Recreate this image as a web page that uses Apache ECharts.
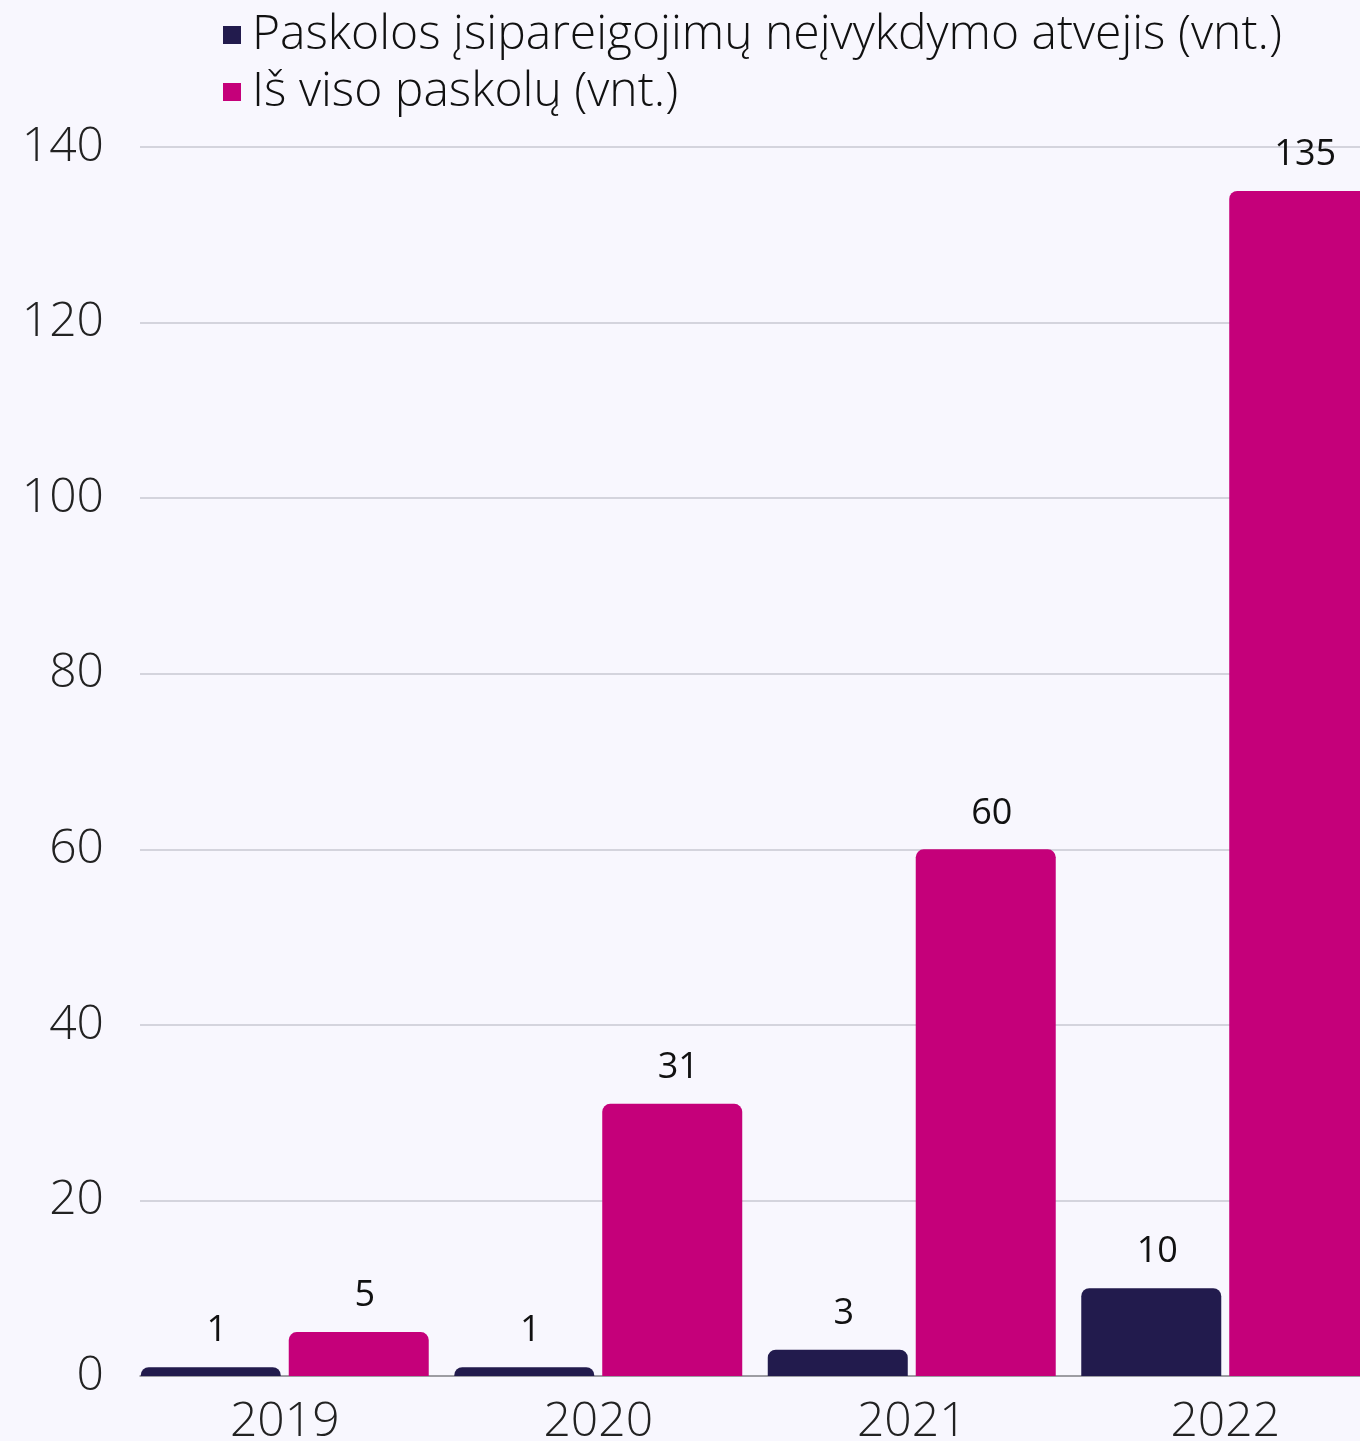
<!DOCTYPE html>
<html>
<head>
<meta charset="utf-8">
<script src="https://cdn.jsdelivr.net/npm/echarts@6/dist/echarts.min.js"></script>
<style>
  html, body { margin: 0; padding: 0; background: #f8f7fe; }
  #chart { width: 1360px; height: 1441px; }
</style>
</head>
<body>
<div id="chart"></div>
<script>
const years = ["2019", "2020", "2021", "2022"];
const defaults = [1, 1, 3, 10]; // Paskolos įsipareigojimų neįvykdymo atvejis
const totals = [5, 31, 60, 135]; // Iš viso paskolų
const yTicks = [0, 20, 40, 60, 80, 100, 120, 140];

const font = "'Open Sans', 'Noto Sans', sans-serif";
const chart = echarts.init(document.getElementById("chart"));

const valueLabel = {
  show: true,
  position: "top",
  distance: 18,
  offset: [6, 0],
  color: "#111",
  fontSize: 36,
  fontFamily: font,
};

chart.setOption({
  backgroundColor: "#f8f7fe",
  animation: false,
  legend: {
    orient: "vertical",
    left: 218,
    top: 6,
    itemWidth: 18,
    itemHeight: 18,
    itemGap: 9,
    icon: "rect",
    textStyle: {
      fontSize: 48,
      lineHeight: 48,
      fontWeight: 300,
      color: "#111",
      fontFamily: font,
      padding: [0, 0, 0, 6],
    },
    data: ["Paskolos įsipareigojimų neįvykdymo atvejis (vnt.)", "Iš viso paskolų (vnt.)"],
  },
  grid: [
    // axis grid: split lines and y labels start at 140
    { left: 140, right: 0, top: 147, bottom: 65, outerBoundsMode: "none" },
    // bars grid, runs past the right edge
    { left: 128, width: 1254, top: 147, bottom: 65, outerBoundsMode: "none" },
  ],
  xAxis: [
    {
      gridIndex: 0,
      type: "category",
      data: years,
      axisLine: { show: true, lineStyle: { color: "#8a8a90", width: 1.5 } },
      axisTick: { show: false },
      axisLabel: { show: false },
    },
    {
      gridIndex: 1,
      type: "category",
      data: years,
      axisLine: { show: false },
      axisTick: { show: false },
      axisLabel: { fontSize: 48, fontWeight: 300, color: "#222", margin: 22, fontFamily: font },
    },
  ],
  yAxis: [
    {
      gridIndex: 0,
      type: "value",
      min: yTicks[0],
      max: yTicks[yTicks.length - 1],
      interval: 20,
      axisLine: { show: false },
      axisTick: { show: false },
      axisLabel: { fontSize: 48, fontWeight: 300, color: "#222", margin: 36, fontFamily: font },
      splitLine: { lineStyle: { color: "#c9c8d2", width: 1.5 } },
    },
    {
      gridIndex: 1,
      type: "value",
      min: yTicks[0],
      max: yTicks[yTicks.length - 1],
      interval: 20,
      show: false,
      splitLine: { show: false },
    },
  ],
  series: [
    {
      name: "Paskolos įsipareigojimų neįvykdymo atvejis (vnt.)",
      type: "bar",
      xAxisIndex: 1,
      yAxisIndex: 1,
      data: defaults,
      barWidth: 140,
      barGap: "5.7%",
      itemStyle: { color: "#221b4d", borderRadius: [8, 8, 0, 0] },
      label: valueLabel,
    },
    {
      name: "Iš viso paskolų (vnt.)",
      type: "bar",
      xAxisIndex: 1,
      yAxisIndex: 1,
      data: totals,
      barWidth: 140,
      itemStyle: { color: "#c5007a", borderRadius: [8, 8, 0, 0] },
      label: valueLabel,
    },
  ],
});
</script>
</body>
</html>
